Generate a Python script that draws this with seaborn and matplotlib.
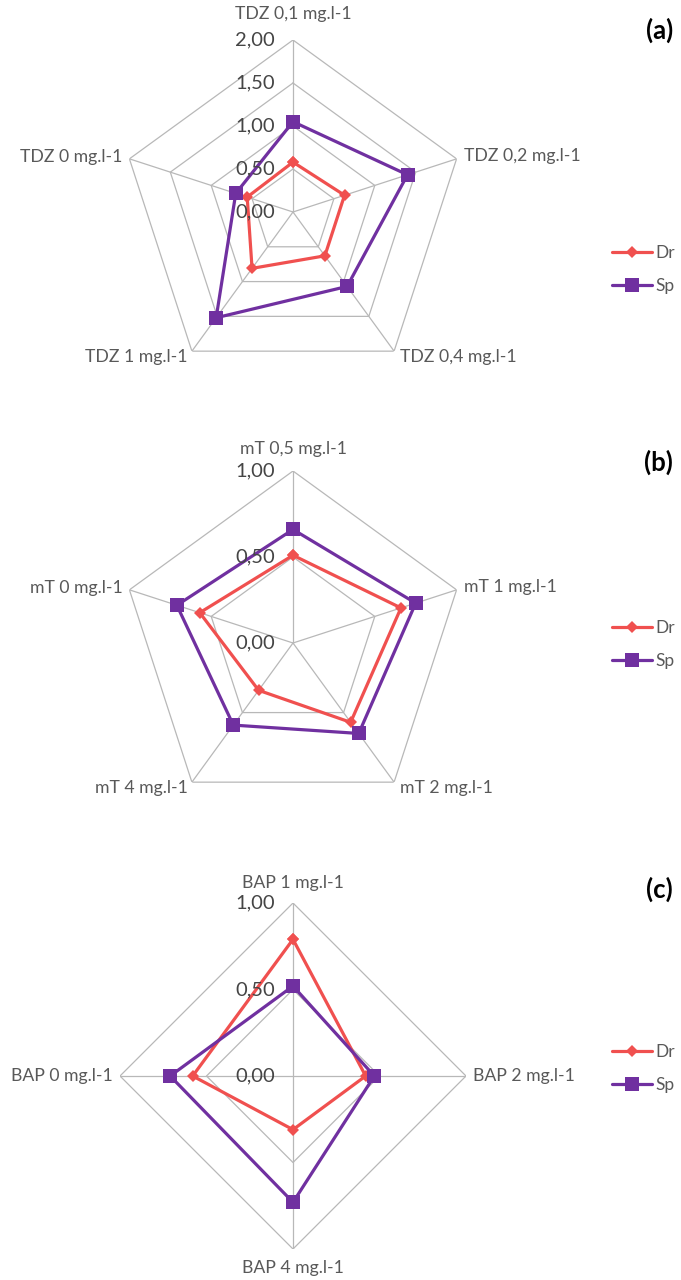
import numpy as np
import pandas as pd
import matplotlib
matplotlib.use("Agg")
import matplotlib.pyplot as plt
from matplotlib.lines import Line2D
import seaborn as sns

# ---- data -------------------------------------------------------------
tdz_labels = ["TDZ 0,1 mg.l-1", "TDZ 0,2 mg.l-1", "TDZ 0,4 mg.l-1",
              "TDZ 1 mg.l-1", "TDZ 0 mg.l-1"]
tdz_dr = [0.58, 0.63, 0.63, 0.81, 0.56]
tdz_sp = [1.05, 1.40, 1.07, 1.52, 0.70]

mt_labels = ["mT 0,5 mg.l-1", "mT 1 mg.l-1", "mT 2 mg.l-1",
             "mT 4 mg.l-1", "mT 0 mg.l-1"]
mt_dr = [0.51, 0.66, 0.57, 0.34, 0.57]
mt_sp = [0.66, 0.75, 0.65, 0.59, 0.71]

bap_labels = ["BAP 1 mg.l-1", "BAP 2 mg.l-1", "BAP 4 mg.l-1", "BAP 0 mg.l-1"]
bap_dr = [0.79, 0.42, 0.31, 0.58]
bap_sp = [0.52, 0.47, 0.73, 0.71]

series_names = ["Dr", "Sp"]
ticks_a = [0.0, 0.5, 1.0, 1.5, 2.0]
ticks_bc = [0.0, 0.5, 1.0]
panel_tags = ["(a)", "(b)", "(c)"]

# ---- style ------------------------------------------------------------
sns.set_theme(style="white")
plt.rcParams["font.family"] = ["Lato", "DejaVu Sans"]

RED = "#F0504F"
PURPLE = "#7030A0"
GRID = "#B8B8B8"
TXT = "#595959"
TICK_TXT = "#454545"
palette = {"Dr": RED, "Sp": PURPLE}
markers = {"Dr": "D", "Sp": "s"}

W, H = 681, 1280
fig = plt.figure(figsize=(W / 100, H / 100), dpi=100)
fig.patch.set_facecolor("white")


def fmt(v):
    return f"{v:.2f}".replace(".", ",")


def radar(cx, cy, R, labels, dr, sp, ticks, top_pad):
    n = len(labels)
    rmax = ticks[-1]
    rect = [(cx - R) / W, (H - cy - R) / H, 2 * R / W, 2 * R / H]
    ax = fig.add_axes(rect, projection="polar")
    ax.set_theta_offset(np.pi / 2)
    ax.set_theta_direction(-1)
    ax.set_ylim(0, rmax)
    ax.grid(False)
    ax.set_xticks([])
    ax.set_yticks([])
    ax.spines["polar"].set_visible(False)
    ax.set_facecolor("white")

    theta = np.linspace(0, 2 * np.pi, n, endpoint=False)
    closed = np.append(theta, theta[0])

    # polygon rings and spokes
    for r in ticks[1:]:
        ax.plot(closed, [r] * (n + 1), color=GRID, lw=0.9, zorder=1)
    for t in theta:
        ax.plot([t, t], [0, rmax], color=GRID, lw=0.9, zorder=1)

    # series
    rows = []
    for name, vals in zip(series_names, [dr, sp]):
        vv = list(vals) + [vals[0]]
        for t, v in zip(list(theta) + [2 * np.pi], vv):
            rows.append({"theta": t, "value": v, "series": name})
    df = pd.DataFrame(rows)
    sns.lineplot(data=df, x="theta", y="value", hue="series", style="series",
                 hue_order=series_names, style_order=series_names,
                 palette=palette, markers=markers, dashes=False, sort=False,
                 estimator=None, errorbar=None, linewidth=2.3,
                 markeredgewidth=0, legend=False, ax=ax, zorder=3)
    for line in ax.get_lines()[-2:]:
        if line.get_marker() == "s":
            line.set_markersize(10.5)
        else:
            line.set_markersize(6.0)
    ax.set_xlabel("")
    ax.set_ylabel("")

    # tick value labels along the top spoke
    for v in ticks:
        ax.annotate(fmt(v), xy=(0, v), xytext=(-18, 0),
                    textcoords="offset pixels", ha="right", va="center",
                    fontsize=14.5, color=TICK_TXT, zorder=4)

    # category labels
    for t, lab in zip(theta, labels):
        deg = np.degrees(t) % 360
        if np.isclose(deg, 0):
            off, ha, va = (0, top_pad), "center", "center"
        elif np.isclose(deg, 180):
            off, ha, va = (0, -19), "center", "center"
        elif deg < 90 - 1e-6 or np.isclose(deg, 90):
            off, ha, va = (7, 3 if deg < 89 else 0), "left", "center"
        elif deg < 180:
            off, ha, va = (6, -6), "left", "center"
        elif deg < 270 - 1e-6:
            off, ha, va = (-4, -6), "right", "center"
        else:
            off, ha, va = (-7, 2 if deg > 271 else 0), "right", "center"
        ax.annotate(lab, xy=(t, rmax), xytext=off, textcoords="offset pixels",
                    ha=ha, va=va, fontsize=12.7, color=TXT,
                    annotation_clip=False)
    return ax


panels = [
    (293, 212, 172, tdz_labels, tdz_dr, tdz_sp, ticks_a, 26, 30, 251, 288),
    (293, 643, 172, mt_labels, mt_dr, mt_sp, ticks_bc, 22, 462, 626, 663),
    (293, 1076, 173, bap_labels, bap_dr, bap_sp, ticks_bc, 20, 889, 1050, 1087),
]

handles = [
    Line2D([], [], color=RED, lw=2.3, marker="D", markersize=6.0,
           markeredgewidth=0),
    Line2D([], [], color=PURPLE, lw=2.3, marker="s", markersize=10.5,
           markeredgewidth=0),
]

for tag, (cx, cy, R, labs, dr, sp, ticks, tp, tag_y, ly1, ly2) in zip(panel_tags, panels):
    radar(cx, cy, R, labs, dr, sp, ticks, tp)
    fig.text(673 / W, 1 - tag_y / H, tag, ha="right", va="center",
             fontsize=18.5, fontweight="bold", color="black")
    leg = fig.legend(handles, series_names, loc="center left",
                     bbox_to_anchor=(612 / W, 1 - ((ly1 + ly2) / 2) / H),
                     frameon=False, fontsize=12.5, handlelength=2.3,
                     handletextpad=0.2, labelspacing=1.0, borderpad=0,
                     borderaxespad=0)
    for txt in leg.get_texts():
        txt.set_color(TXT)

fig.savefig("out.png", dpi=100, facecolor="white")
